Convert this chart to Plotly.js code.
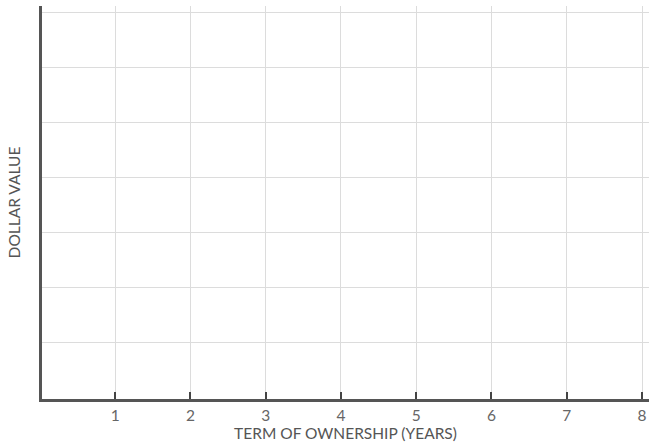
<!DOCTYPE html>
<html><head><meta charset="utf-8">
<script src="https://cdn.plot.ly/plotly-3.0.1.min.js"></script>
<style>html,body{margin:0;padding:0;background:#fff;}#chart{width:649px;height:447px;}</style>
</head><body><div id="chart"></div>
<script>
const years = [1, 2, 3, 4, 5, 6, 7, 8];
const yearLabels = ['1', '2', '3', '4', '5', '6', '7', '8'];
const valueGrid = [1, 2, 3, 4, 5, 6, 7];
const xTitle = 'TERM OF OWNERSHIP (YEARS)';
const yTitle = 'DOLLAR VALUE';

const font = 'Lato, "Open Sans", sans-serif';
Plotly.newPlot('chart', [{
  x: [], y: [], type: 'scatter', mode: 'lines', showlegend: false, hoverinfo: 'skip'
}], {
  width: 649, height: 447,
  margin: {l: 42, r: 0, t: 6, b: 48},
  paper_bgcolor: '#fff', plot_bgcolor: '#fff',
  showlegend: false,
  xaxis: {
    range: [0.027, 8.093], tickmode: 'array', tickvals: years, ticktext: yearLabels,
    ticks: 'inside', ticklen: 7, tickwidth: 2, tickcolor: '#444',
    showline: true, linewidth: 3, linecolor: '#555',
    showgrid: true, gridcolor: '#dcdcdc', gridwidth: 1, zeroline: false,
    tickfont: {family: font, size: 15.5, color: '#666'},
    title: {text: xTitle, font: {family: font, size: 15.5, color: '#555'}, standoff: 4},
    fixedrange: true
  },
  yaxis: {
    range: [-0.036, 7.12], tickmode: 'array', tickvals: valueGrid, showticklabels: false,
    ticks: '', showline: true, linewidth: 3, linecolor: '#555',
    showgrid: true, gridcolor: '#dcdcdc', gridwidth: 1, zeroline: false,
    title: {text: yTitle, font: {family: font, size: 15.5, color: '#555'}, standoff: 15},
    fixedrange: true
  }
}, {displayModeBar: false, staticPlot: true});
</script></body></html>
